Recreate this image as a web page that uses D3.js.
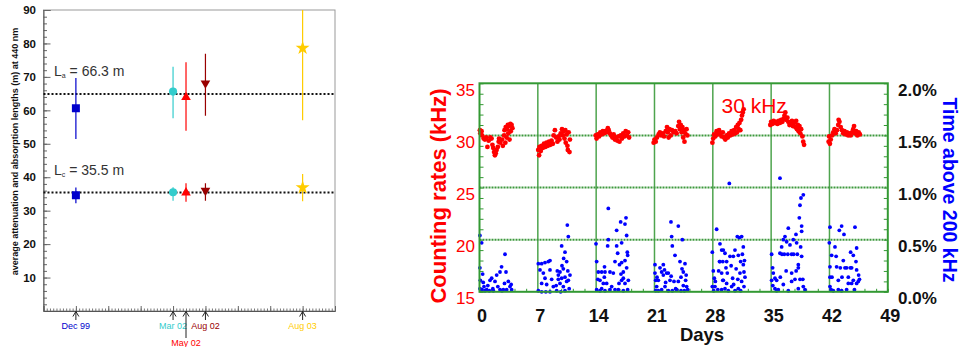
<!DOCTYPE html>
<meta charset="utf-8">
<style>
body { margin: 0; background: #fff; }
svg { font-family: Arial, "Liberation Sans", sans-serif; }
</style>
<body>
<script src="https://d3js.org/d3.v7.min.js"></script>
<script>
// ---- left panel: lengths per measuring campaign
var campaigns = ["Dec 99", "Mar 02", "May 02", "Aug 02", "Aug 03"];
var campPos   = [10, 40, 44, 50, 80];
var campColor = ["#0000cc", "#33cccc", "#ff0000", "#990000", "#ffcc00"];
var attLen = [60.6, 65.6, 63.9, 68.1, 78.6];
var attLo  = [51.4, 57.6, 53.9, 58.4, 57.0];
var attHi  = [69.7, 73.0, 74.4, 76.9, 90.0];
var absLen = [34.6, 35.5, 35.4, 36.0, 36.9];
var absLo  = [32.2, 33.0, 32.7, 33.0, 32.8];
var absHi  = [36.9, 37.0, 38.2, 38.2, 41.0];
var refLen  = [64.9, 35.4];
var refText = [" = 66.3 m", " = 35.5 m"];
var refSub  = ["a", "c"];
var lenTicks = [10, 20, 30, 40, 50, 60, 70, 80, 90];

// ---- right panel: counting rate [day, kHz] and time above 200 kHz [day, %]
var rateData = [
  [0.05,30.5],[0.1,30.2],[0.25,30.4],[0.3,30.0],[0.5,29.7],[0.65,29.6],[0.8,29.8],[0.95,28.9],[1.1,29.5],[1.3,29.8],
  [1.45,29.7],[1.55,29.1],[1.65,28.8],[1.75,28.4],[1.85,28.1],[1.95,28.3],[2.05,28.6],[2.2,28.9],[2.3,29.4],[2.35,29.7],
  [2.5,29.3],[2.7,29.6],[2.8,29.0],[2.95,30.0],[3.0,30.5],[3.1,29.3],[3.15,30.8],[3.25,29.8],[3.3,30.6],[3.4,31.0],
  [3.45,30.2],[3.55,30.9],[3.6,29.6],[3.7,31.1],[3.75,30.4],[3.85,31.0],[3.95,30.7],
  [7.05,28.6],[7.15,28.1],[7.2,28.9],[7.35,28.5],[7.45,29.0],[7.6,28.8],[7.75,29.2],[7.9,28.9],[8.05,29.3],[8.2,29.0],
  [8.35,29.4],[8.5,29.1],[8.65,29.5],[8.8,29.2],[8.9,30.0],[9.05,30.5],[9.2,29.8],[9.35,29.4],[9.5,29.9],[9.6,29.6],
  [9.75,30.2],[9.9,30.6],[10.0,30.0],[10.1,30.4],[10.2,29.7],[10.3,30.5],[10.35,29.3],[10.45,30.1],[10.55,29.0],[10.6,28.6],
  [10.7,30.3],[10.8,28.4],[10.85,29.6],
  [13.95,30.0],[14.05,29.7],[14.2,30.1],[14.35,29.9],[14.5,30.3],[14.65,30.1],[14.8,30.4],[14.95,30.2],[15.1,30.4],[15.25,30.3],
  [15.4,30.7],[15.5,30.5],[15.65,30.2],[15.8,30.0],[15.95,29.8],[16.1,30.1],[16.25,29.6],[16.4,29.8],[16.55,29.5],[16.7,29.9],
  [16.8,29.4],[16.95,30.0],[17.1,29.7],[17.25,30.2],[17.4,29.9],[17.55,30.4],[17.7,30.0],[17.85,30.3],[17.95,29.8],
  [20.9,29.3],[21.0,29.6],[21.15,29.4],[21.3,29.8],[21.5,30.1],[21.65,30.3],[21.8,30.0],[22.0,30.2],[22.15,29.9],[22.35,30.4],
  [22.5,30.8],[22.6,30.3],[22.7,29.8],[22.8,30.6],[22.95,30.0],[23.1,30.5],[23.3,30.3],[23.5,30.4],[23.65,30.2],[23.85,30.9],
  [23.95,31.3],[24.05,30.6],[24.15,31.0],[24.25,30.3],[24.35,30.8],[24.45,29.8],[24.55,30.5],[24.6,29.4],[24.7,30.2],[24.85,30.6],
  [24.95,30.0],
  [27.95,29.3],[28.05,29.7],[28.15,30.1],[28.3,29.9],[28.45,30.4],[28.6,30.1],[28.75,30.5],[28.9,30.2],[29.05,29.9],[29.2,30.3],
  [29.35,29.8],[29.5,29.6],[29.65,30.0],[29.8,29.8],[29.95,30.2],[30.1,30.0],[30.25,30.4],[30.4,30.1],[30.55,30.5],[30.7,30.2],
  [30.8,30.8],[30.9,30.3],[31.0,31.0],[31.1,30.6],[31.2,31.2],[31.3,30.5],[31.4,31.5],[31.5,31.9],[31.6,32.2],[31.7,32.5],
  [34.9,31.0],[35.0,31.3],[35.15,31.1],[35.3,31.4],[35.45,31.2],[35.6,31.3],[35.75,31.1],[35.9,31.4],[36.05,31.2],[36.2,31.5],
  [36.35,31.3],[36.5,31.6],[36.6,31.9],[36.7,32.2],[36.8,31.5],[36.95,31.7],[37.05,31.3],[37.2,31.0],[37.35,31.2],[37.5,31.4],
  [37.6,30.9],[37.75,31.2],[37.9,30.8],[38.0,31.4],[38.1,30.6],[38.2,31.0],[38.3,30.4],[38.4,30.9],[38.5,30.2],[38.6,30.6],
  [38.75,29.9],[38.85,29.4],[38.95,29.1],
  [41.9,29.4],[41.95,29.9],[42.05,29.2],[42.15,29.6],[42.3,30.0],[42.45,30.3],[42.6,30.6],[42.75,30.2],[42.9,30.5],[43.05,31.0],
  [43.1,31.5],[43.2,31.3],[43.35,30.8],[43.5,30.5],[43.65,30.2],[43.8,30.4],[43.95,30.1],[44.1,30.3],[44.25,30.0],[44.4,30.2],
  [44.55,30.0],[44.7,30.3],[44.85,30.6],[44.95,30.9],[45.05,30.2],[45.2,30.4],[45.35,30.0],[45.5,30.3],[45.65,30.1]
];
var timeData = [
  [0.05,0.54],[0.26,0.47],[0.05,0.23],[0.1,0.11],[0.38,0.17],[0.06,0.03],[0.54,0.05],[0.86,0.02],[1.26,0.11],[1.46,0.13],
  [1.86,0.1],[2.06,0.16],[2.46,0.19],[2.65,0.24],[3.06,0.36],[3.18,0.19],[3.46,0.1],[3.66,0.05],[2.86,0.02],[3.26,0.02],
  [3.86,0.02],[1.66,0.01],[1.18,0.01],[0.66,0.01],[0.3,0.02],[2.46,0.02],[0.15,0.02],[1.0,0.06],[2.2,0.05],[3.0,0.08],
  [3.8,0.07],[1.6,0.03],[2.7,0.01],[0.45,0.09],
  [7.06,0.27],[7.46,0.27],[7.86,0.28],[8.26,0.29],[8.46,0.3],[7.26,0.21],[7.66,0.18],[7.86,0.13],[7.46,0.08],[8.06,0.07],
  [8.66,0.12],[8.46,0.21],[8.86,0.05],[9.34,0.2],[9.46,0.16],[9.66,0.19],[9.86,0.44],[10.06,0.22],[10.26,0.38],[10.46,0.29],
  [10.54,0.64],[10.66,0.53],[10.26,0.14],[10.46,0.1],[10.06,0.05],[9.66,0.08],[9.46,0.12],[9.86,0.13],[10.66,0.11],[10.86,0.16],
  [10.76,0.03],[10.26,0.01],[7.06,0.01],[7.46,0.0],[7.96,0.0],[8.46,0.0],[9.26,0.01],[9.74,0.0],[9.9,0.25],[10.1,0.32],
  [10.6,0.2],[9.2,0.06],
  [14.06,0.29],[13.98,0.46],[14.26,0.19],[14.46,0.11],[14.66,0.03],[14.98,0.14],[15.06,0.19],[15.46,0.8],[15.46,0.5],[15.38,0.44],
  [15.26,0.08],[15.66,0.19],[16.06,0.18],[16.26,0.29],[16.46,0.59],[16.46,0.44],[16.58,0.37],[16.74,0.08],[16.94,0.67],[17.06,0.47],
  [17.06,0.28],[17.26,0.19],[17.46,0.65],[17.58,0.71],[17.66,0.54],[17.74,0.38],[17.78,0.35],[17.46,0.3],[17.66,0.23],[17.26,0.13],
  [17.46,0.08],[17.06,0.11],[16.66,0.02],[17.86,0.11],[17.78,0.02],[15.66,0.02],[15.06,0.01],[14.46,0.01],[14.06,0.02],[16.26,0.02],
  [15.86,0.05],[14.86,0.08],[14.66,0.19],[17.26,0.01],[16.98,0.17],[15.0,0.24],[16.8,0.26],[14.2,0.12],
  [21.06,0.26],[21.06,0.18],[21.14,0.11],[21.26,0.05],[21.66,0.23],[21.86,0.19],[22.06,0.26],[22.06,0.16],[22.26,0.05],[22.46,0.18],
  [22.66,0.18],[22.86,0.11],[22.98,0.67],[23.06,0.53],[23.14,0.44],[23.34,0.1],[23.46,0.35],[23.54,0.03],[23.86,0.63],[24.06,0.29],
  [24.18,0.14],[24.34,0.5],[24.46,0.19],[24.66,0.27],[24.74,0.11],[24.86,0.05],[24.46,0.06],[23.86,0.1],[21.14,0.01],[21.46,0.01],
  [21.86,0.02],[22.66,0.01],[23.14,0.01],[23.66,0.02],[24.18,0.01],[24.58,0.01],[24.98,0.02],[22.34,0.09],[21.46,0.11],[22.2,0.21],
  [23.0,0.15],[24.3,0.22],[21.3,0.14],[24.8,0.16],
  [28.46,0.6],[27.94,0.38],[28.06,0.2],[28.18,0.13],[27.94,0.05],[29.06,0.4],[28.3,0.1],[28.26,0.05],[28.7,0.2],[28.8,0.29],
  [29.2,0.29],[29.2,0.11],[28.6,0.02],[28.86,0.46],[29.26,0.4],[29.46,0.37],[29.66,0.29],[28.86,0.29],[29.06,0.18],[29.58,0.23],
  [29.74,0.18],[29.98,1.04],[30.06,0.34],[29.26,0.11],[29.66,0.08],[29.46,0.03],[30.26,0.05],[30.46,0.34],[30.66,0.4],[30.94,0.53],
  [31.18,0.52],[31.46,0.53],[31.66,0.43],[31.06,0.35],[31.34,0.29],[31.66,0.26],[31.74,0.19],[31.26,0.18],[31.86,0.14],[31.46,0.1],
  [31.74,0.05],[31.06,0.03],[30.66,0.01],[31.34,0.01],[29.86,0.01],[29.06,0.02],[30.38,0.13],[28.1,0.01],[30.8,0.22],[31.0,0.12],
  [31.55,0.36],[30.2,0.25],[31.8,0.3],[30.5,0.07],
  [35.06,0.36],[35.18,0.23],[35.26,0.18],[35.06,0.11],[35.46,0.13],[35.66,0.11],[35.46,0.03],[35.86,0.02],[36.06,1.09],[36.06,0.37],
  [36.26,0.43],[36.46,0.5],[36.58,0.36],[36.66,0.53],[37.06,0.61],[36.86,0.48],[37.26,0.45],[37.46,0.36],[37.46,0.18],[37.66,0.5],
  [37.98,0.55],[38.06,0.47],[38.14,0.36],[38.26,0.26],[38.26,0.23],[38.38,0.71],[38.46,0.83],[38.58,0.9],[38.86,0.93],[38.66,0.63],
  [38.66,0.58],[38.54,0.43],[38.66,0.34],[38.46,0.12],[38.26,0.03],[38.86,0.05],[39.06,0.02],[37.46,0.1],[37.06,0.01],[36.46,0.07],
  [35.66,0.01],[37.86,0.12],[36.3,0.36],[37.0,0.36],[37.7,0.36],[36.8,0.2],[35.2,0.06],[38.0,0.2],[36.1,0.14],[38.8,0.12],
  [42.06,0.62],[41.98,0.47],[42.26,0.35],[42.66,0.43],[42.86,0.24],[42.06,0.24],[42.06,0.14],[42.06,0.05],[43.06,0.11],[43.06,0.02],
  [43.18,0.59],[43.46,0.63],[43.74,0.55],[43.66,0.3],[43.86,0.23],[44.06,0.23],[44.26,0.14],[44.26,0.08],[44.54,0.38],[44.66,0.23],
  [44.86,0.35],[45.06,0.62],[45.18,0.29],[45.26,0.42],[45.26,0.21],[45.26,0.08],[45.46,0.1],[44.86,0.11],[44.06,0.02],[43.46,0.01],
  [44.66,0.08],[42.46,0.01],[42.3,0.14],[43.3,0.23],[43.5,0.14],[42.8,0.34],[45.5,0.16],[45.6,0.12],[44.5,0.23],[42.2,0.02],
  [45.0,0.02]
];
var dayTicks  = [0, 7, 14, 21, 28, 35, 42, 49];
var rateTicks = [15, 20, 25, 30, 35];
var pctTicks  = [0, 0.5, 1.0, 1.5, 2.0];

var svg = d3.select("body").append("svg")
    .attr("width", 961)
    .attr("height", 347);

svg.append("rect").attr("width", 961).attr("height", 347).attr("fill", "#fff");

// ================= left panel =================
var lx = d3.scaleLinear().domain([0, 90]).range([43.5, 335]);
var ly = d3.scaleLinear().domain([0, 90]).range([311, 10]);

var left = svg.append("g");

left.append("rect")
    .attr("x", lx(0)).attr("y", ly(90))
    .attr("width", lx(90) - lx(0)).attr("height", ly(0) - ly(90))
    .attr("fill", "none").attr("stroke", "#999").attr("stroke-width", 1);

// y axis, ticks inside
left.append("g")
    .attr("transform", "translate(" + lx(0) + ",0)")
    .call(d3.axisLeft(ly).tickValues(d3.range(0, 91, 2)).tickSize(-3.5).tickFormat(""))
    .call(function(g) { g.select(".domain").remove(); g.selectAll("line").attr("stroke", "#666"); });
left.append("g")
    .attr("transform", "translate(" + lx(0) + ",0)")
    .call(d3.axisLeft(ly).tickValues(lenTicks).tickSize(-7).tickPadding(7.5))
    .call(function(g) {
      g.select(".domain").attr("stroke", "#555");
      g.selectAll("line").attr("stroke", "#666");
      g.selectAll("text").attr("font-size", 11.5).attr("font-weight", "bold")
        .attr("font-family", "Arial, 'Liberation Sans', sans-serif").attr("fill", "#111");
    });

// x axis, ticks inside
left.append("g")
    .attr("transform", "translate(0," + ly(0) + ")")
    .call(d3.axisBottom(lx).tickValues(d3.range(0, 91, 1)).tickSize(-2.5).tickFormat(""))
    .call(function(g) { g.select(".domain").remove(); g.selectAll("line").attr("stroke", "#777"); });
left.append("g")
    .attr("transform", "translate(0," + ly(0) + ")")
    .call(d3.axisBottom(lx).tickValues(d3.range(0, 91, 10)).tickSize(-5).tickFormat(""))
    .call(function(g) { g.select(".domain").attr("stroke", "#555"); g.selectAll("line").attr("stroke", "#666"); });

// y title
left.append("text")
    .attr("transform", "translate(17.5,151.5) rotate(-90)")
    .attr("text-anchor", "middle")
    .attr("font-size", 9).attr("font-weight", "bold").attr("fill", "#111")
    .text("average attenuation and absorption lengths (m) at 440 nm");

// reference lines with labels
refLen.forEach(function(v, i) {
  left.append("line")
      .attr("x1", lx(0)).attr("x2", lx(90))
      .attr("y1", ly(v)).attr("y2", ly(v))
      .attr("stroke", "#111").attr("stroke-width", 2).attr("stroke-dasharray", "2,2");
  var t = left.append("text")
      .attr("x", 54).attr("y", ly(v) - 18)
      .attr("font-size", 14).attr("fill", "#333");
  t.append("tspan").text("L");
  t.append("tspan").attr("font-size", 7).attr("dy", 2).text(refSub[i]);
  t.append("tspan").attr("dy", -2).text(refText[i]);
});

// campaign markers
var shapes = [d3.symbolSquare, d3.symbolCircle, d3.symbolTriangle, d3.symbolTriangle, d3.symbolStar];
var sizes  = [64, 52, 40, 40, 60];
var rot    = [0, 0, 0, 180, 0];

left.append("clipPath").attr("id", "lclip")
  .append("rect").attr("x", lx(0)).attr("y", ly(90))
  .attr("width", lx(90) - lx(0)).attr("height", ly(0) - ly(90));

var marks = left.append("g").attr("clip-path", "url(#lclip)");
campaigns.forEach(function(c, i) {
  var cx = lx(campPos[i]);
  [[attLen, attLo, attHi], [absLen, absLo, absHi]].forEach(function(s) {
    marks.append("line")
        .attr("x1", cx).attr("x2", cx)
        .attr("y1", ly(s[1][i])).attr("y2", ly(s[2][i]))
        .attr("stroke", campColor[i]).attr("stroke-width", 1.2);
    marks.append("path")
        .attr("d", d3.symbol().type(shapes[i]).size(sizes[i])())
        .attr("transform", "translate(" + cx + "," + ly(s[0][i]) + ") rotate(" + rot[i] + ")")
        .attr("fill", campColor[i]);
  });
});

// date arrows under the axis
campaigns.forEach(function(c, i) {
  var cx = lx(campPos[i]);
  var low = c == "May 02";
  left.append("line")
      .attr("x1", cx).attr("x2", cx)
      .attr("y1", ly(0) + 0.5).attr("y2", low ? 338 : 320)
      .attr("stroke", "#222").attr("stroke-width", 1);
  left.append("path")
      .attr("d", "M" + (cx - 3) + "," + (ly(0) + 5.5) + "L" + cx + "," + (ly(0) + 0.5) + "L" + (cx + 3) + "," + (ly(0) + 5.5))
      .attr("fill", "none").attr("stroke", "#222").attr("stroke-width", 1);
  left.append("text")
      .attr("x", cx).attr("y", low ? 345.5 : 329)
      .attr("text-anchor", "middle")
      .attr("font-size", 9).attr("fill", campColor[i])
      .text(c);
});

// ================= right panel =================
var x  = d3.scaleLinear().domain([0, 49]).range([479.5, 887.8]);
var yL = d3.scaleLinear().domain([15, 35]).range([291.8, 83.3]);
var yR = d3.scaleLinear().domain([0, 2]).range([291.8, 83.3]);
var green = "#339933";

var right = svg.append("g");

// grid
right.selectAll(".vgrid")
  .data(dayTicks.slice(1, -1))
  .enter().append("line")
    .attr("x1", function(d) { return x(d); }).attr("x2", function(d) { return x(d); })
    .attr("y1", yL(35)).attr("y2", yL(15))
    .attr("stroke", "#4ea44e").attr("stroke-width", 1.5);
right.selectAll(".hgrid")
  .data([20, 25, 30])
  .enter().append("line")
    .attr("x1", x(0)).attr("x2", x(49))
    .attr("y1", function(d) { return yL(d); }).attr("y2", function(d) { return yL(d); })
    .attr("stroke", "#3d993d").attr("stroke-width", 2).attr("stroke-dasharray", "2,1");

// minor ticks, inside
right.append("g")
    .attr("transform", "translate(" + x(0) + ",0)")
    .call(d3.axisLeft(yL).tickValues(d3.range(15, 36, 1)).tickSize(-4).tickFormat(""))
    .call(function(g) { g.select(".domain").remove(); g.selectAll("line").attr("stroke", green); });
right.append("g")
    .attr("transform", "translate(" + x(49) + ",0)")
    .call(d3.axisRight(yR).tickValues(d3.range(0, 21, 1).map(function(d) { return d / 10; })).tickSize(-4).tickFormat(""))
    .call(function(g) { g.select(".domain").remove(); g.selectAll("line").attr("stroke", green); });
right.append("g")
    .attr("transform", "translate(0," + yL(15) + ")")
    .call(d3.axisBottom(x).tickValues(d3.range(0, 36, 1).map(function(d) { return d * 1.4; })).tickSize(-3).tickFormat(""))
    .call(function(g) { g.select(".domain").remove(); g.selectAll("line").attr("stroke", green); });

// points
right.selectAll(".tp")
  .data(timeData)
  .enter().append("circle")
    .attr("cx", function(d) { return x(d[0]); })
    .attr("cy", function(d) { return yR(d[1]); })
    .attr("r", 1.9)
    .attr("fill", "#0000ff");
right.selectAll(".rp")
  .data(rateData)
  .enter().append("circle")
    .attr("cx", function(d) { return x(d[0]); })
    .attr("cy", function(d) { return yL(d[1]); })
    .attr("r", 2.4)
    .attr("fill", "#ff0000");

// frame
right.append("rect")
    .attr("x", x(0)).attr("y", yL(35))
    .attr("width", x(49) - x(0)).attr("height", yL(15) - yL(35))
    .attr("fill", "none").attr("stroke", green).attr("stroke-width", 2);

// tick labels
right.selectAll(".ll")
  .data(rateTicks)
  .enter().append("text")
    .attr("x", 475)
    .attr("y", function(d) { return yL(d) + 6.5; })
    .attr("dy", "0.35em")
    .attr("text-anchor", "end")
    .attr("font-size", 17).attr("fill", "#ff0000")
    .text(function(d) { return d; });
right.selectAll(".rl")
  .data(pctTicks)
  .enter().append("text")
    .attr("x", 898)
    .attr("y", function(d) { return yR(d) + 6.7; })
    .attr("dy", "0.35em")
    .attr("font-size", 17).attr("font-weight", "bold").attr("fill", "#111")
    .text(function(d) { return d.toFixed(1) + "%"; });
right.selectAll(".xl")
  .data(dayTicks)
  .enter().append("text")
    .attr("x", function(d) { return x(d) + 2.5; })
    .attr("y", 322)
    .attr("text-anchor", "middle")
    .attr("font-size", 18).attr("font-weight", "bold").attr("fill", "#111")
    .text(function(d) { return d; });

right.append("text")
    .attr("x", 702).attr("y", 341)
    .attr("text-anchor", "middle")
    .attr("font-size", 18.5).attr("font-weight", "bold").attr("fill", "#111")
    .text("Days");

right.append("text")
    .attr("transform", "translate(446,196) rotate(-90)")
    .attr("text-anchor", "middle")
    .attr("font-size", 22).attr("font-weight", "bold").attr("fill", "#ff0000")
    .text("Counting rates (kHz)");

right.append("text")
    .attr("transform", "translate(943,190) rotate(90)")
    .attr("text-anchor", "middle")
    .attr("font-size", 19.5).attr("font-weight", "bold").attr("fill", "#0000ff")
    .text("Time above 200 kHz");

right.append("text")
    .attr("x", 721.5).attr("y", 113)
    .attr("font-size", 21).attr("fill", "#ff0000")
    .text("30 kHz");
</script>
</body>
